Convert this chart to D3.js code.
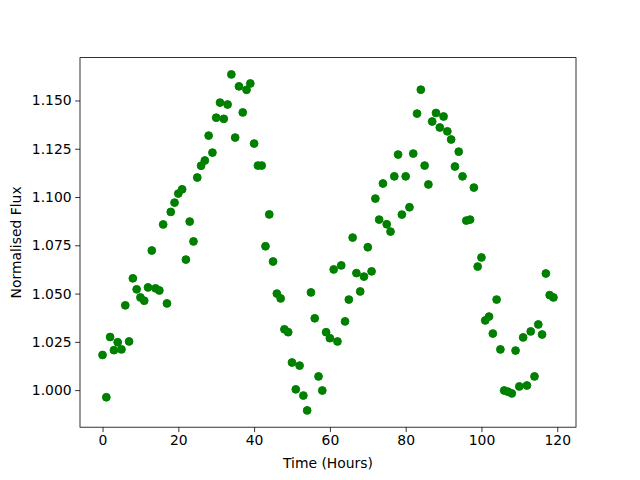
<!DOCTYPE html>
<html>
<head>
<meta charset="utf-8">
<script src="https://cdn.jsdelivr.net/npm/d3@7"></script>
<style>
  body { margin: 0; background: #fff; }
  text { font-family: "DejaVu Sans", sans-serif; }
</style>
</head>
<body>
<div id="chart"></div>
<script>
// flux readings, one per hour
var hours = d3.range(0, 120)
var flux = [
  1.0182, 0.9963, 1.0275, 1.0207, 1.0248, 1.0211, 1.0439, 1.0252, 1.0579, 1.0522,
  1.0480, 1.0463, 1.0532, 1.0723, 1.0527, 1.0516, 1.0858, 1.0449, 1.0923, 1.0971,
  1.1018, 1.1040, 1.0676, 1.0873, 1.0770, 1.1101, 1.1162, 1.1189, 1.1318, 1.1230,
  1.1411, 1.1489, 1.1405, 1.1479, 1.1635, 1.1308, 1.1573, 1.1438, 1.1555, 1.1588,
  1.1277, 1.1163, 1.1163, 1.0745, 1.0910, 1.0666, 1.0500, 1.0475, 1.0315, 1.0300,
  1.0143, 1.0004, 1.0127, 0.9972, 0.9895, 1.0506, 1.0372, 1.0071, 0.9998, 1.0300,
  1.0269, 1.0625, 1.0252, 1.0646, 1.0356, 1.0469, 1.0790, 1.0606, 1.0511, 1.0588,
  1.0740, 1.0615, 1.0992, 1.0883, 1.1070, 1.0859, 1.0821, 1.1107, 1.1220, 1.0909,
  1.1107, 1.0947, 1.1225, 1.1432, 1.1556, 1.1163, 1.1065, 1.1391, 1.1435, 1.1360,
  1.1417, 1.1340, 1.1298, 1.1158, 1.1235, 1.1107, 1.0878, 1.0883, 1.1049, 1.0640,
  1.0687, 1.0361, 1.0381, 1.0293, 1.0469, 1.0211, 0.9998, 0.9992, 0.9983, 1.0205,
  1.0019, 1.0273, 1.0024, 1.0304, 1.0071, 1.0340, 1.0288, 1.0604, 1.0492, 1.0480
]
var xTicks = [0, 20, 40, 60, 80, 100, 120]
var yTicks = [1.000, 1.025, 1.050, 1.075, 1.100, 1.125, 1.150]

var width = 640, height = 480
var plotLeft = 80, plotRight = 576, plotTop = 57.6, plotBottom = 427.2

var svg = d3.select("#chart").append("svg").attr("width", width).attr("height", height)

// matplotlib style 5% margins
function padded(ext) {
    var m = (ext[1] - ext[0]) * 0.05
    return [ext[0] - m, ext[1] + m]
}
var x = d3.scaleLinear().domain(padded(d3.extent(hours))).range([plotLeft, plotRight])
var y = d3.scaleLinear().domain(padded(d3.extent(flux))).range([plotBottom, plotTop])

var pts = hours.map((h, i) => ({h: h, f: flux[i]}))

svg.append("g").selectAll("circle").data(pts).join("circle")
    .attr("cx", d => x(d.h)).attr("cy", d => y(d.f)).attr("r", 3.9)
    .style("fill", "#008000").style("stroke", "#008000").style("stroke-width", 1)

svg.append("g").attr("transform", "translate(0," + plotBottom + ")")
    .call(d3.axisBottom(x).tickValues(xTicks).tickSize(4.9).tickPadding(3.5).tickFormat(d3.format("d")))
svg.append("g").attr("transform", "translate(" + plotLeft + ",0)")
    .call(d3.axisLeft(y).tickValues(yTicks).tickSize(4.9).tickPadding(3.5).tickFormat(d3.format(".3f")))

svg.selectAll(".domain").remove()
svg.selectAll(".tick line").style("stroke", "#000").style("stroke-width", 0.8)
svg.selectAll(".tick text").style("font-size", "13.9px").style("fill", "#000")
    .style("font-family", "'DejaVu Sans', sans-serif")

// frame
svg.append("rect").attr("x", plotLeft).attr("y", plotTop)
    .attr("width", plotRight - plotLeft).attr("height", plotBottom - plotTop)
    .style("fill", "none").style("stroke", "#000").style("stroke-width", 0.8)

svg.append("text").attr("x", (plotLeft + plotRight) / 2).attr("y", 468)
    .attr("text-anchor", "middle").style("font-size", "13.9px").text("Time (Hours)")
svg.append("text").attr("transform", "translate(21," + (plotTop + plotBottom) / 2 + ") rotate(-90)")
    .attr("text-anchor", "middle").style("font-size", "13.9px").text("Normalised Flux")
</script>
</body>
</html>
